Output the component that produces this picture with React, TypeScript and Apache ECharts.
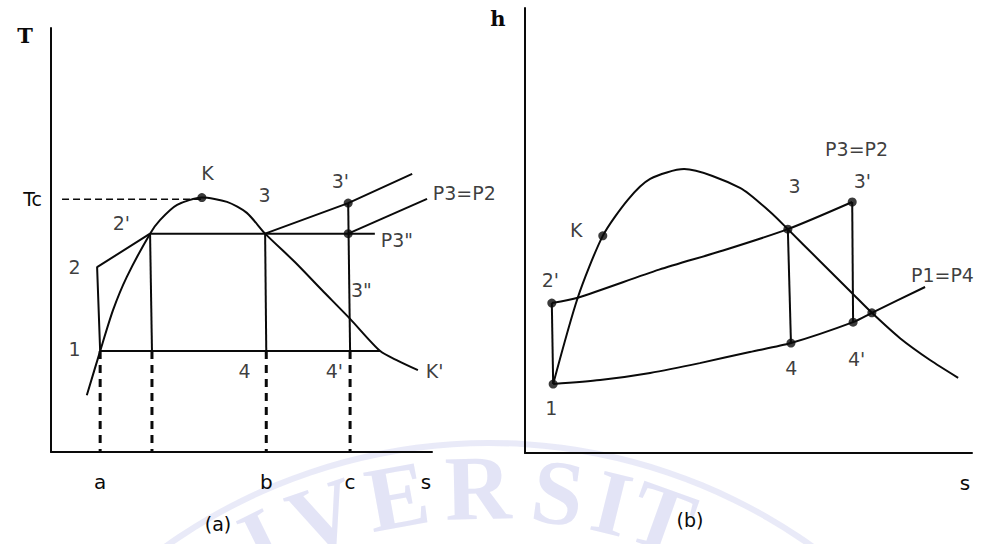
import React, { useEffect, useRef } from 'react';
import * as echarts from 'echarts';

// ---------- (a) T–s diagram ----------
// saturation dome 1 … K … K'
const domeTs = [
  [9.4, 13.4], [12.9, 23.8], [16.3, 33.5], [19.9, 41.3], [26.0, 51.5], [28.6, 54.7],
  [33.1, 58.3], [39.6, 60.0], [46.2, 59.0], [51.4, 56.4], [56.2, 51.5], [64.0, 44.8],
  [71.1, 38.2], [78.5, 31.4], [86.4, 23.8], [91.1, 21.5], [96.3, 19.3],
];
const pumpTs = [[12.9, 23.8], [12.1, 43.6], [26.0, 51.5]]; // 1 → 2 → 2'
const evapTs = [[26.0, 51.5], [85.0, 51.5]]; // 2' → 3 → P3"
const condTs = [[12.9, 23.8], [86.4, 23.8]]; // 1 → 4 → 4'
const drop2Ts = [[26.0, 51.5], [26.5, 23.8]];
const drop3Ts = [[56.2, 51.5], [56.5, 23.8]];
const drop3pTs = [[78.0, 58.7], [78.5, 23.8]];
const superTs = [[56.2, 51.5], [78.0, 58.7], [94.8, 65.6]]; // 3 → 3'
const isobarTs = [[78.0, 51.5], [98.7, 59.7]]; // P3 = P2
const projTs = [
  [[12.9, 23.8], [12.9, 0]],
  [[26.5, 23.8], [26.5, 0]],
  [[56.5, 23.8], [56.5, 0]],
  [[78.5, 23.8], [78.5, 0]],
];
const tcLineTs = [[2.9, 59.6], [39.6, 59.6]];
const dotsTs = [[39.6, 60.0], [78.0, 58.7], [78.0, 51.5]];
const sTicksTs = [12.9, 56.5, 78.5, 98.4];
const sTickNamesTs = ['a', 'b', 'c', 's'];
const tTicks = [59.6];
const tTickNames = ['Tc'];
const labelsTs = [
  { name: 'K', value: [41.2, 65.8] },
  { name: "2'", value: [18.6, 53.8] },
  { name: '2', value: [6.3, 43.6] },
  { name: '1', value: [6.3, 24.1] },
  { name: '3', value: [56.2, 60.6] },
  { name: "3'", value: [76.1, 63.7] },
  { name: 'P3=P2', value: [108.6, 61.0] },
  { name: 'P3"', value: [90.9, 50.0] },
  { name: '3"', value: [81.6, 38.2] },
  { name: '4', value: [50.9, 18.9] },
  { name: "4'", value: [74.5, 18.9] },
  { name: "K'", value: [100.8, 18.9] },
];

// ---------- (b) h–s diagram ----------
const domeHs = [
  [6.3, 15.5], [11.8, 34.9], [17.4, 48.8], [23.0, 56.9], [28.0, 61.6], [35.6, 63.8],
  [48.1, 59.6], [54.8, 54.2], [58.8, 50.3], [66.0, 43.1], [73.2, 35.9], [77.6, 31.5],
  [83.9, 25.8], [90.6, 20.9], [96.9, 16.9],
];
const highHs = [[6.0, 33.7], [11.8, 34.9], [30.0, 41.2], [44.3, 45.5], [58.8, 50.3], [73.2, 56.4]];
const lowHs = [[6.3, 15.5], [16.8, 16.4], [28.0, 18.0], [39.1, 20.2], [50.3, 22.7], [59.5, 24.7], [73.4, 29.4], [77.6, 31.5], [89.5, 37.3]];
const pumpHs = [[6.3, 15.5], [6.0, 33.7]];
const drop3Hs = [[58.8, 50.3], [59.5, 24.7]];
const drop3pHs = [[73.2, 56.4], [73.4, 29.4]];
const dotsHs = [[6.3, 15.5], [6.0, 33.7], [17.4, 48.8], [58.8, 50.3], [73.2, 56.4], [59.5, 24.7], [73.4, 29.4], [77.6, 31.5]];
const sTicksHs = [98.4];
const sTickNamesHs = ['s'];
const labelsHs = [
  { name: 'K', value: [11.6, 50.1] },
  { name: "2'", value: [5.8, 38.7] },
  { name: '1', value: [6.0, 9.9] },
  { name: '3', value: [60.4, 59.8] },
  { name: "3'", value: [75.6, 60.9] },
  { name: 'P3=P2', value: [74.3, 68.1] },
  { name: 'P1=P4', value: [93.5, 40.0] },
  { name: '4', value: [59.7, 19.1] },
  { name: "4'", value: [74.3, 20.9] },
];

const INK = '#0a0a0a';
const FONT = '"DejaVu Sans", Verdana, sans-serif';

const solid = (data: number[][], g: number, smooth: number | boolean = false) => ({
  type: 'line',
  xAxisIndex: g,
  yAxisIndex: g,
  data,
  smooth,
  symbol: 'none',
  clip: false,
  silent: true,
  lineStyle: { color: INK, width: 2 },
});

const dashed = (data: number[][], g: number, width: number, dash: number[]) => ({
  ...solid(data, g),
  lineStyle: { color: INK, width, type: dash },
});

const dots = (data: number[][], g: number) => ({
  type: 'scatter',
  xAxisIndex: g,
  yAxisIndex: g,
  data,
  symbolSize: 9,
  clip: false,
  silent: true,
  itemStyle: { color: INK },
});

const texts = (data: { name: string; value: number[] }[], g: number) => ({
  type: 'scatter',
  xAxisIndex: g,
  yAxisIndex: g,
  data,
  symbolSize: 1,
  clip: false,
  silent: true,
  itemStyle: { color: 'transparent' },
  label: {
    show: true,
    position: [0, 0],
    align: 'center',
    verticalAlign: 'middle',
    formatter: '{b}',
    color: INK,
    fontFamily: FONT,
    fontSize: 19,
  },
});

const pick = (vals: number[], names: string[]) => (v: number) => {
  const i = vals.findIndex((x) => Math.abs(x - v) < 1e-6);
  return i >= 0 ? names[i] : '';
};

const xAxisBase = (g: number, vals: number[], names: string[]) => ({
  type: 'value',
  gridIndex: g,
  min: 0,
  max: 100,
  splitLine: { show: false },
  axisTick: { show: false },
  axisLine: { show: true, onZero: false, lineStyle: { color: INK, width: 2 } },
  axisLabel: {
    customValues: vals,
    formatter: pick(vals, names),
    margin: 20,
    color: INK,
    fontFamily: FONT,
    fontSize: 20,
  },
});

// faint seal lettering behind the plots
const sealCx = 489;
const sealCy = 1000;
const sealLetters = ['I', 'V', 'E', 'R', 'S', 'I', 'T'];
const sealX = [262, 323, 397, 478, 558, 612, 662];
const sealGraphics = sealX.map((x, i) => {
  const r = 512;
  const th = Math.asin((x - sealCx) / r);
  return {
    type: 'text',
    x,
    y: sealCy - r * Math.cos(th),
    rotation: -th,
    z: -10,
    style: {
      text: sealLetters[i],
      fill: 'rgba(200,202,238,0.5)',
      font: 'bold 92px "Liberation Serif", serif',
      align: 'center',
      verticalAlign: 'middle',
    },
  };
});

const option = {
  animation: false,
  backgroundColor: '#ffffff',
  grid: [
    { left: 51, top: 28, width: 381, height: 424 },
    { left: 525, top: 8, width: 447, height: 445 },
  ],
  xAxis: [xAxisBase(0, sTicksTs, sTickNamesTs), xAxisBase(1, sTicksHs, sTickNamesHs)],
  yAxis: [
    {
      type: 'value',
      gridIndex: 0,
      min: 0,
      max: 100,
      splitLine: { show: false },
      axisTick: { show: false },
      axisLine: { show: true, onZero: false, lineStyle: { color: INK, width: 2 } },
      axisLabel: {
        customValues: tTicks,
        formatter: pick(tTicks, tTickNames),
        margin: 9,
        color: INK,
        fontFamily: FONT,
        fontSize: 19,
      },
    },
    {
      type: 'value',
      gridIndex: 1,
      min: 0,
      max: 100,
      splitLine: { show: false },
      axisTick: { show: false },
      axisLine: { show: true, onZero: false, lineStyle: { color: INK, width: 2 } },
      axisLabel: { show: false },
    },
  ],
  graphic: [
    {
      type: 'ring',
      shape: { cx: sealCx, cy: sealCy, r: 560, r0: 554 },
      z: -10,
      style: { fill: 'rgba(200,202,238,0.4)' },
    },
    ...sealGraphics,
    { type: 'text', x: 25, y: 35, style: { text: 'T', font: 'bold 21px "DejaVu Serif", serif', fill: INK, align: 'center', verticalAlign: 'middle' } },
    { type: 'text', x: 498, y: 18, style: { text: 'h', font: 'bold 21px "DejaVu Serif", serif', fill: INK, align: 'center', verticalAlign: 'middle' } },
    { type: 'text', x: 218, y: 524, style: { text: '(a)', font: `19px ${FONT}`, fill: INK, align: 'center', verticalAlign: 'middle' } },
    { type: 'text', x: 690, y: 520, style: { text: '(b)', font: `19px ${FONT}`, fill: INK, align: 'center', verticalAlign: 'middle' } },
  ],
  series: [
    // (a)
    solid(domeTs, 0, 0.25),
    solid(pumpTs, 0),
    solid(evapTs, 0),
    solid(condTs, 0),
    solid(drop2Ts, 0),
    solid(drop3Ts, 0),
    solid(drop3pTs, 0),
    solid(superTs, 0),
    solid(isobarTs, 0),
    ...projTs.map((p) => dashed(p, 0, 3, [8, 6])),
    dashed(tcLineTs, 0, 1.5, [7, 4]),
    dots(dotsTs, 0),
    texts(labelsTs, 0),
    // (b)
    solid(domeHs, 1, 0.25),
    solid(highHs, 1, 0.25),
    solid(lowHs, 1, 0.25),
    solid(pumpHs, 1),
    solid(drop3Hs, 1),
    solid(drop3pHs, 1),
    dots(dotsHs, 1),
    texts(labelsHs, 1),
  ],
};

export default function App() {
  const ref = useRef<HTMLDivElement>(null);
  useEffect(() => {
    const chart = echarts.init(ref.current as HTMLDivElement, null, { renderer: 'svg' });
    chart.setOption(option as any);
    return () => chart.dispose();
  }, []);
  return (
    <div
      ref={ref}
      style={{ position: 'fixed', left: 0, top: 0, width: 988, height: 544, background: '#fff' }}
    />
  );
}
